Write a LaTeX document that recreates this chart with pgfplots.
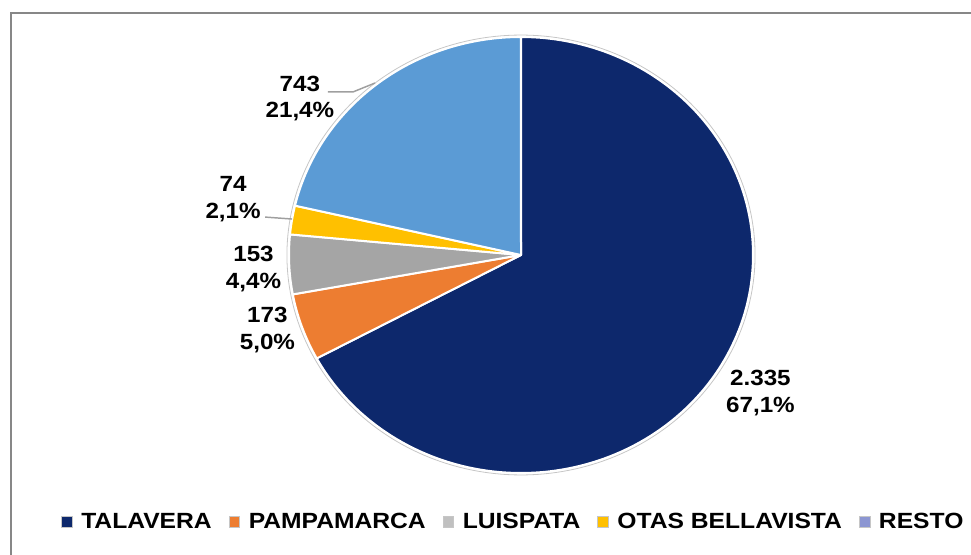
\documentclass[border=0pt]{standalone}
\usepackage{fontspec}
\setmainfont{Liberation Sans}
\usepackage{graphicx}
\usepackage{pgfplots}
\usepackage{pgfplotstable}
\pgfplotsset{compat=1.18}

\definecolor{cTal}{RGB}{13,40,108}
\definecolor{cPam}{RGB}{237,125,49}
\definecolor{cLui}{RGB}{165,165,165}
\definecolor{cOta}{RGB}{255,192,0}
\definecolor{cRes}{RGB}{91,155,213}
\definecolor{cResLeg}{RGB}{140,150,210}
\definecolor{frame}{RGB}{135,135,135}

\pgfplotstableread{
name value
TALAVERA 2335
PAMPAMARCA 173
LUISPATA 153
OTAS 74
RESTO 743
}\piedata

\newcommand\sx[1]{\scalebox{1.1}[1]{#1}}
\newcommand\lx[1]{\scalebox{1.12}[1]{#1}}
\newcommand\labfont{\fontsize{16.5}{20}\selectfont\bfseries}

\begin{document}
\begin{tikzpicture}
\pgfplotstablegetelem{0}{value}\of\piedata\let\vA\pgfplotsretval
\pgfplotstablegetelem{1}{value}\of\piedata\let\vB\pgfplotsretval
\pgfplotstablegetelem{2}{value}\of\piedata\let\vC\pgfplotsretval
\pgfplotstablegetelem{3}{value}\of\piedata\let\vD\pgfplotsretval
\pgfplotstablegetelem{4}{value}\of\piedata\let\vE\pgfplotsretval
\pgfmathsetmacro\tot{\vA+\vB+\vC+\vD+\vE}
\pgfmathsetmacro\aA{90}
\pgfmathsetmacro\aB{\aA-360*(\vA/\tot)}
\pgfmathsetmacro\aC{\aB-360*(\vB/\tot)}
\pgfmathsetmacro\aD{\aC-360*(\vC/\tot)}
\pgfmathsetmacro\aE{\aD-360*(\vD/\tot)}
\pgfmathsetmacro\aF{\aE-360*(\vE/\tot)}
% 1 px of the reference = 0.75pt; page 971 x 554 px
\begin{scope}
\clip (0pt,0pt) rectangle (728.25pt,415.5pt);
\draw[frame, line width=1.6pt] (8.25pt,-15pt) -- (8.25pt,405.75pt) -- (750pt,405.75pt);
\begin{axis}[
  at={(390.75pt,224.25pt)}, anchor=center,
  scale only axis, width=348pt, height=327pt,
  xmin=-1, xmax=1, ymin=-1, ymax=1,
  hide axis, clip=false,
  legend image code/.code={\draw[#1,draw=gray!45,line width=0.5pt] (0pt,-4pt) rectangle (8pt,4pt);},
  legend columns=5,
  legend style={at={(-0.5,-0.112)}, anchor=west, draw=none, fill=none,
    font=\labfont, nodes={inner sep=0pt},
    /tikz/every odd column/.append style={column sep=6.5pt},
    /tikz/every even column/.append style={column sep=12.75pt}},
]
\addplot[forget plot, fill=cTal, draw=white, line width=1.5pt, line join=round, domain=\aB:\aA, samples=150] ({cos(x)},{sin(x)}) -- (axis cs:0,0) -- cycle;
\addplot[forget plot, fill=cPam, draw=white, line width=1.5pt, line join=round, domain=\aC:\aB, samples=30] ({cos(x)},{sin(x)}) -- (axis cs:0,0) -- cycle;
\addplot[forget plot, fill=cLui, draw=white, line width=1.5pt, line join=round, domain=\aD:\aC, samples=30] ({cos(x)},{sin(x)}) -- (axis cs:0,0) -- cycle;
\addplot[forget plot, fill=cOta, draw=white, line width=1.5pt, line join=round, domain=\aE:\aD, samples=20] ({cos(x)},{sin(x)}) -- (axis cs:0,0) -- cycle;
\addplot[forget plot, fill=cRes, draw=white, line width=1.5pt, line join=round, domain=\aF:\aE, samples=80] ({cos(x)},{sin(x)}) -- (axis cs:0,0) -- cycle;
\addplot[forget plot, draw=gray!45, line width=0.6pt, domain=0:360, samples=240] ({1.009*cos(x)},{1.009*sin(x)});

\draw[gray!75, line width=1.1pt] (axis cs:-0.832,0.748) -- (axis cs:-0.724,0.748) -- (axis cs:-0.629,0.789);
\draw[gray!75, line width=1.1pt] (axis cs:-1.103,0.174) -- (axis cs:-0.987,0.165);

\node[font=\labfont, align=center] at (axis cs:1.032,-0.633) {\sx{2.335}\\\sx{67,1\%}};
\node[font=\labfont, align=center] at (axis cs:-1.093,-0.344) {\sx{173}\\\sx{5,0\%}};
\node[font=\labfont, align=center] at (axis cs:-1.153,-0.064) {\sx{153}\\\sx{4,4\%}};
\node[font=\labfont, align=center] at (axis cs:-1.241,0.257) {\sx{74}\\\sx{2,1\%}};
\node[font=\labfont, align=center] at (axis cs:-0.953,0.718) {\sx{743}\\\sx{21,4\%}};

\addlegendimage{fill=cTal}\addlegendentry{\lx{TALAVERA}}
\addlegendimage{fill=cPam}\addlegendentry{\lx{PAMPAMARCA}}
\addlegendimage{fill=cLui!70}\addlegendentry{\lx{LUISPATA}}
\addlegendimage{fill=cOta}\addlegendentry{\lx{OTAS BELLAVISTA}}
\addlegendimage{fill=cResLeg}\addlegendentry{\lx{RESTO}}
\end{axis}
\end{scope}
\pgfresetboundingbox
\path[use as bounding box] (0pt,0pt) rectangle (728.25pt,415.5pt);
\end{tikzpicture}
\end{document}
